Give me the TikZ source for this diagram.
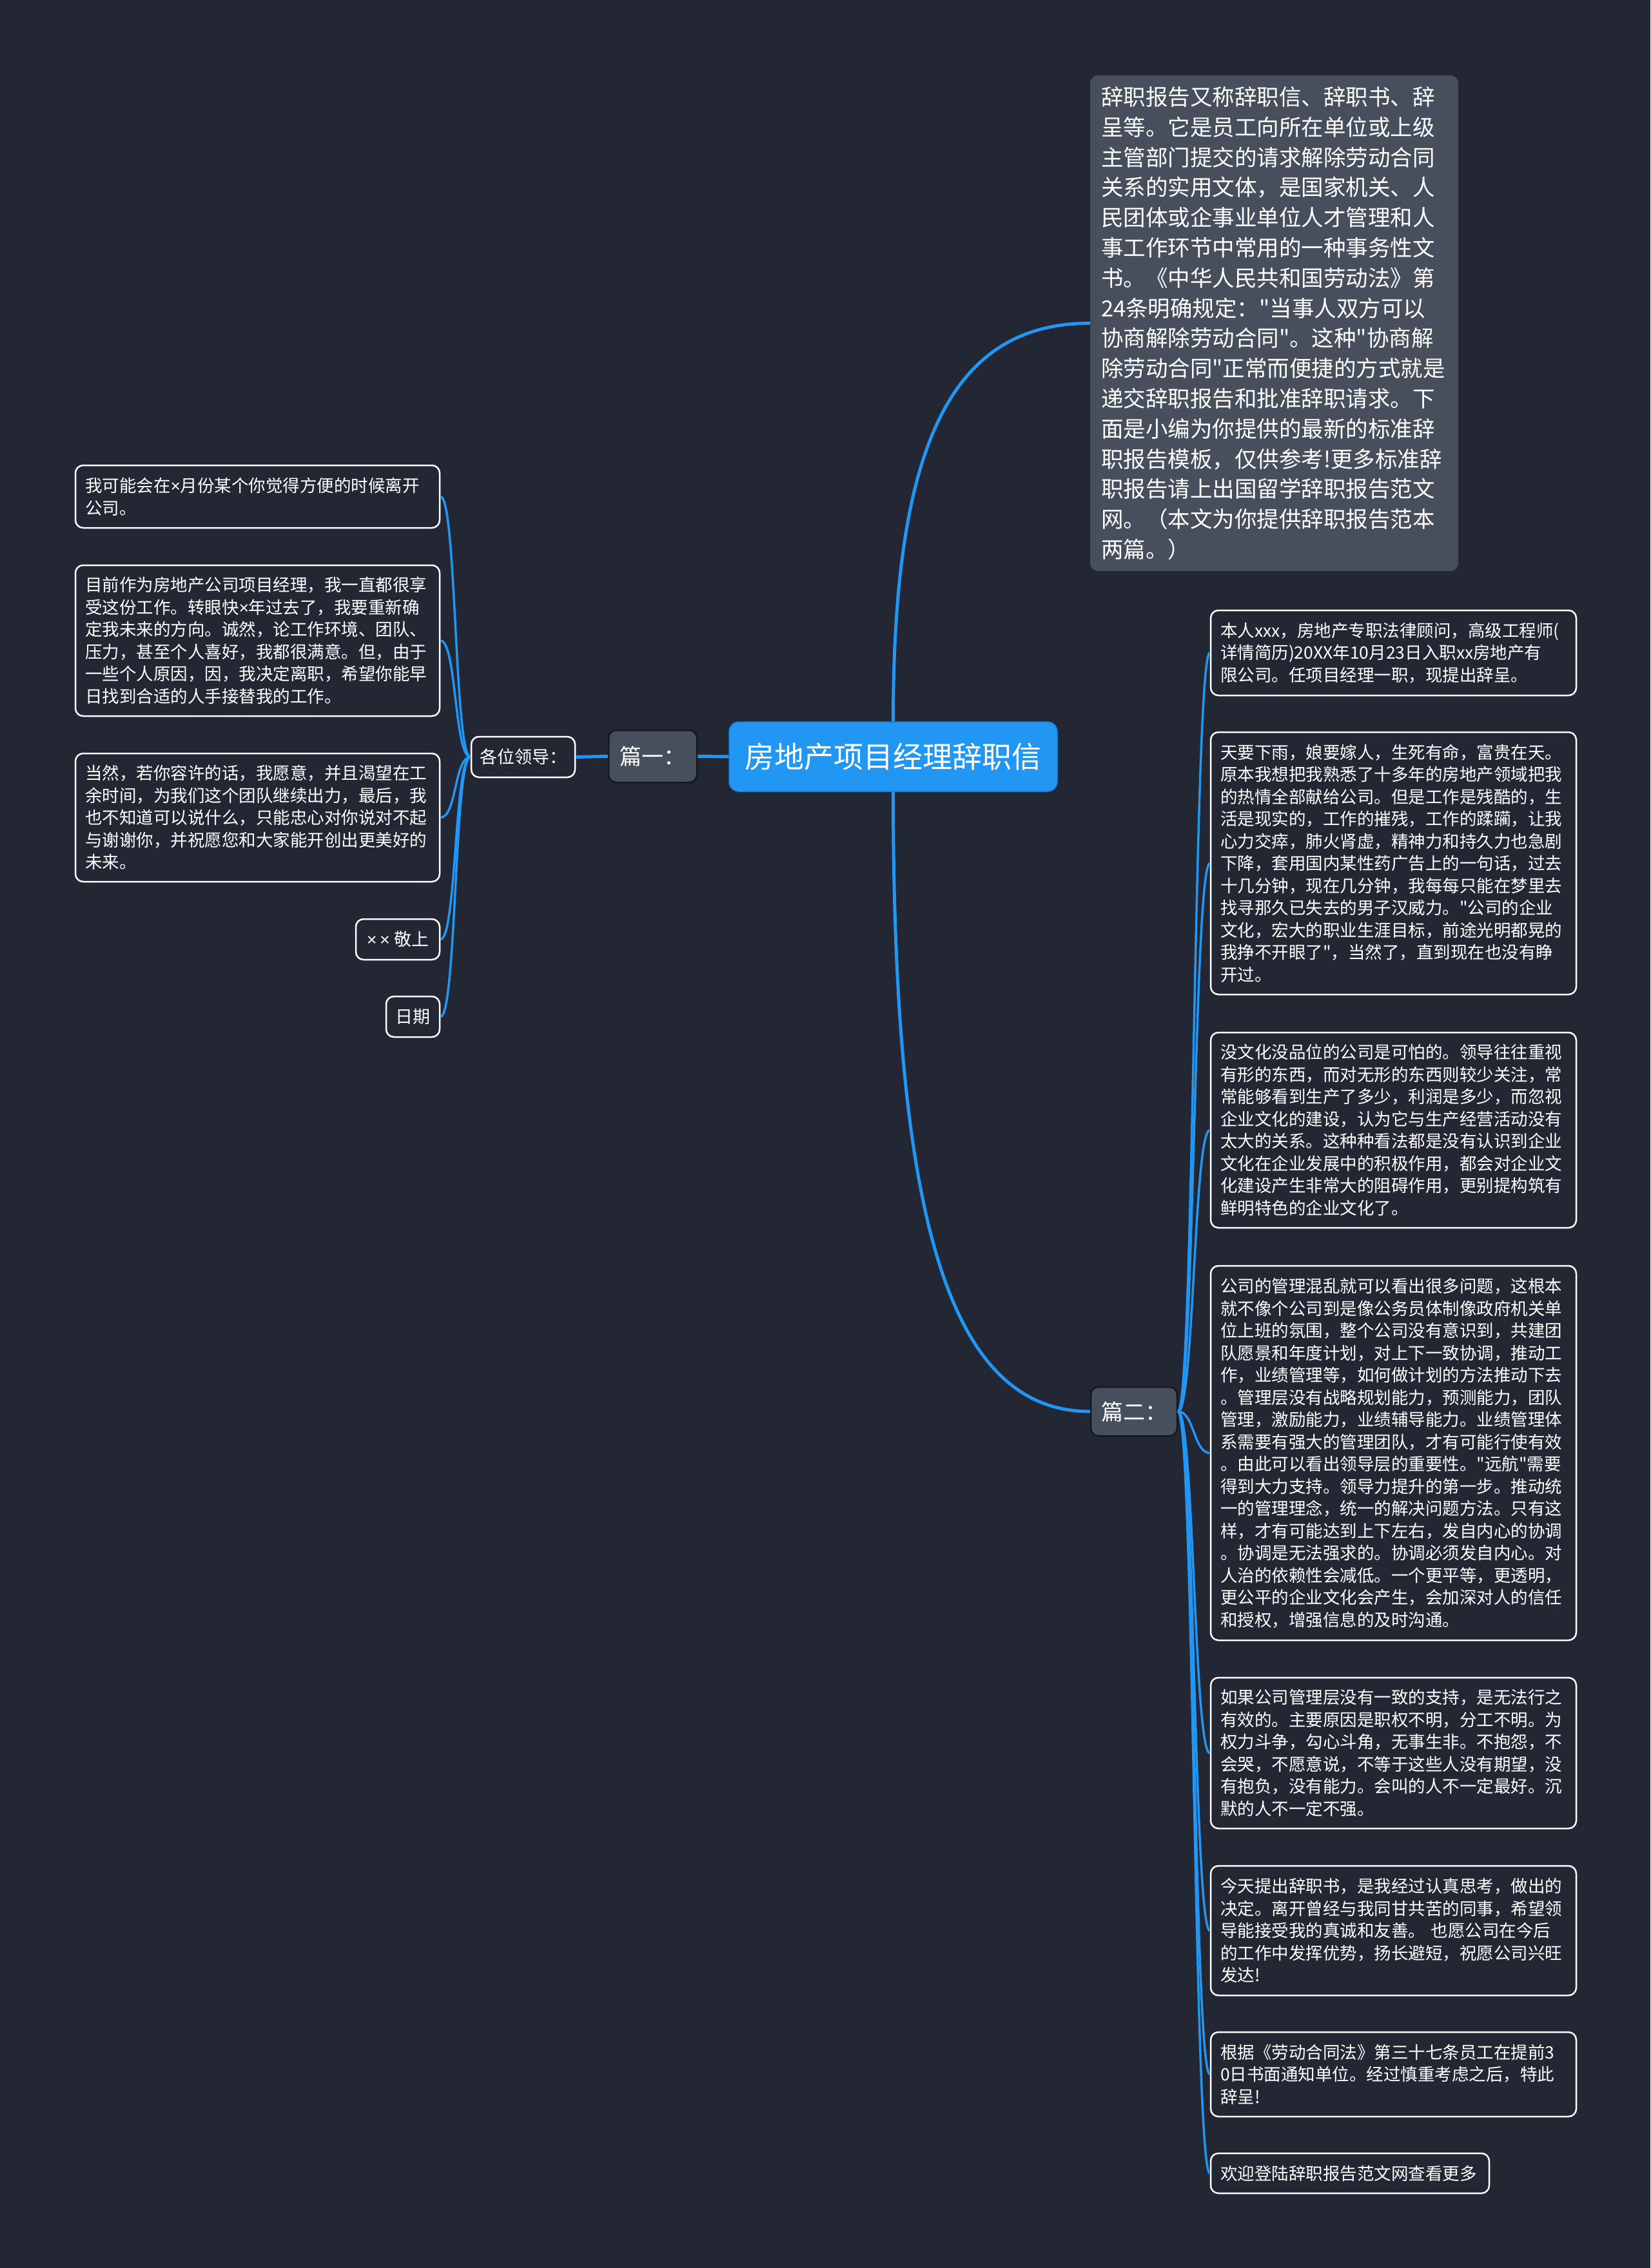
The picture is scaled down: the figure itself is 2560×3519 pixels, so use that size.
\documentclass[tikz,border=0pt]{standalone}
\usepackage{fontspec}
\setmainfont{Noto Sans CJK SC}[Ligatures=TeXOff]
\newfontfamily\latinfont{Liberation Sans}[Ligatures=TeXOff]
\newcommand{\tms}{{\latinfont ×}}
\definecolor{bgc}{HTML}{222733}
\definecolor{introc}{HTML}{474E5C}
\definecolor{rootc}{HTML}{2196F3}
\definecolor{linkc}{HTML}{2196F3}
\definecolor{darkedge}{HTML}{14171D}
\begin{document}
\begin{tikzpicture}[x=1pt,y=-1pt,
  leafbox/.style={draw=white, line width=2.5pt, fill=bgc, rounded corners=12pt, text=white,
    inner xsep=15pt, inner ysep=0pt, align=left, anchor=center,
    font=\fontsize{26.5pt}{34.5pt}\selectfont},
  smallbox/.style={draw=white, line width=2.5pt, fill=bgc, rounded corners=12pt, text=white,
    inner sep=0pt, align=center, font=\fontsize{27pt}{34pt}\selectfont},
  introbox/.style={draw=none, fill=introc, rounded corners=12pt, text=white,
    inner xsep=17pt, inner ysep=0pt, align=left,
    font=\fontsize{34.5pt}{46.8pt}\selectfont},
  midbox/.style={draw=darkedge, line width=2.5pt, fill=introc, rounded corners=12pt, text=white,
    inner sep=0pt, align=center, font=\fontsize{34pt}{40pt}\selectfont},
  rootbox/.style={draw=rootc!85!black, line width=1.5pt, fill=rootc, rounded corners=15pt, text=white,
    inner sep=0pt, align=center, font=\fontsize{46pt}{56pt}\selectfont},
  mainlink/.style={draw=linkc, line width=5pt},
  link/.style={draw=linkc, line width=3.5pt},
]
\fill[bgc] (0,0) rectangle (2560,3519);
\useasboundingbox (0,0) rectangle (2560,3519);

% ---------- nodes ----------
\node[rootbox, minimum width=509pt, minimum height=108pt] (root) at (1385.5,1174) {房地产项目经理辞职信};

\node[midbox, minimum width=137pt, minimum height=81pt] (p1) at (1012.5,1173.5) {篇一：};
\node[smallbox, minimum width=161pt, minimum height=63pt] (lead) at (811.5,1174.5) {各位领导：};

\node[leafbox, text width=535pt, minimum height=97pt] (l1) at (399.5,770.5)
 {我可能会在\tms 月份某个你觉得方便的时候离开\\公司。};
\node[leafbox, text width=535pt, minimum height=234pt] (l2) at (399.5,994)
 {目前作为房地产公司项目经理，我一直都很享\\受这份工作。转眼快\tms 年过去了，我要重新确\\定我未来的方向。诚然，论工作环境、团队、\\压力，甚至个人喜好，我都很满意。但，由于\\一些个人原因，因，我决定离职，希望你能早\\日找到合适的人手接替我的工作。};
\node[leafbox, text width=535pt, minimum height=199pt] (l3) at (399.5,1268.5)
 {当然，若你容许的话，我愿意，并且渴望在工\\余时间，为我们这个团队继续出力，最后，我\\也不知道可以说什么，只能忠心对你说对不起\\与谢谢你，并祝愿您和大家能开创出更美好的\\未来。};
\node[smallbox, minimum width=130pt, minimum height=63pt] (l4) at (617,1457.5) {\tms\,\tms\ 敬上};
\node[smallbox, minimum width=83pt, minimum height=63pt] (l5) at (640.5,1577.5) {日期};

\node[introbox, text width=537pt, minimum height=769pt] (intro) at (1976.5,501.5)
 {辞职报告又称辞职信、辞职书、辞\\呈等。它是员工向所在单位或上级\\主管部门提交的请求解除劳动合同\\关系的实用文体，是国家机关、人\\民团体或企事业单位人才管理和人\\事工作环节中常用的一种事务性文\\书。《中华人民共和国劳动法》第\\24条明确规定："当事人双方可以\\协商解除劳动合同"。这种"协商解\\除劳动合同"正常而便捷的方式就是\\递交辞职报告和批准辞职请求。下\\面是小编为你提供的最新的标准辞\\职报告模板，仅供参考!更多标准辞\\职报告请上出国留学辞职报告范文\\网。（本文为你提供辞职报告范本\\两篇。）};

\node[midbox, minimum width=134pt, minimum height=76pt] (p2) at (1759,2190) {篇二：};

\node[leafbox, text width=537pt, minimum height=132pt] (r1) at (2161.5,1013)
 {本人xxx，房地产专职法律顾问，高级工程师(\\详情简历)20XX年10月23日入职xx房地产有\\限公司。任项目经理一职，现提出辞呈。};
\node[leafbox, text width=537pt, minimum height=407pt] (r2) at (2161.5,1339.5)
 {天要下雨，娘要嫁人，生死有命，富贵在天。\\原本我想把我熟悉了十多年的房地产领域把我\\的热情全部献给公司。但是工作是残酷的，生\\活是现实的，工作的摧残，工作的蹂躏，让我\\心力交瘁，肺火肾虚，精神力和持久力也急剧\\下降，套用国内某性药广告上的一句话，过去\\十几分钟，现在几分钟，我每每只能在梦里去\\找寻那久已失去的男子汉威力。"公司的企业\\文化，宏大的职业生涯目标，前途光明都晃的\\我挣不开眼了"，当然了，直到现在也没有睁\\开过。};
\node[leafbox, text width=537pt, minimum height=303pt] (r3) at (2161.5,1753.5)
 {没文化没品位的公司是可怕的。领导往往重视\\有形的东西，而对无形的东西则较少关注，常\\常能够看到生产了多少，利润是多少，而忽视\\企业文化的建设，认为它与生产经营活动没有\\太大的关系。这种种看法都是没有认识到企业\\文化在企业发展中的积极作用，都会对企业文\\化建设产生非常大的阻碍作用，更别提构筑有\\鲜明特色的企业文化了。};
\node[leafbox, text width=537pt, minimum height=581pt] (r4) at (2161.5,2254.5)
 {公司的管理混乱就可以看出很多问题，这根本\\就不像个公司到是像公务员体制像政府机关单\\位上班的氛围，整个公司没有意识到，共建团\\队愿景和年度计划，对上下一致协调，推动工\\作，业绩管理等，如何做计划的方法推动下去\\。管理层没有战略规划能力，预测能力，团队\\管理，激励能力，业绩辅导能力。业绩管理体\\系需要有强大的管理团队，才有可能行使有效\\。由此可以看出领导层的重要性。"远航"需要\\得到大力支持。领导力提升的第一步。推动统\\一的管理理念，统一的解决问题方法。只有这\\样，才有可能达到上下左右，发自内心的协调\\。协调是无法强求的。协调必须发自内心。对\\人治的依赖性会减低。一个更平等，更透明，\\更公平的企业文化会产生，会加深对人的信任\\和授权，增强信息的及时沟通。};
\node[leafbox, text width=537pt, minimum height=234pt] (r5) at (2161.5,2720)
 {如果公司管理层没有一致的支持，是无法行之\\有效的。主要原因是职权不明，分工不明。为\\权力斗争，勾心斗角，无事生非。不抱怨，不\\会哭，不愿意说，不等于这些人没有期望，没\\有抱负，没有能力。会叫的人不一定最好。沉\\默的人不一定不强。};
\node[leafbox, text width=537pt, minimum height=201pt] (r6) at (2161.5,2995.5)
 {今天提出辞职书，是我经过认真思考，做出的\\决定。离开曾经与我同甘共苦的同事，希望领\\导能接受我的真诚和友善。 也愿公司在今后\\的工作中发挥优势，扬长避短，祝愿公司兴旺\\发达!};
\node[leafbox, text width=537pt, minimum height=131pt] (r7) at (2161.5,3218.5)
 {根据《劳动合同法》第三十七条员工在提前3\\0日书面通知单位。经过慎重考虑之后，特此\\辞呈!};
\node[leafbox, text width=402pt, minimum height=62pt] (r8) at (2094,3372)
 {欢迎登陆辞职报告范文网查看更多};

% ---------- connectors ----------
\path[mainlink] (root.north) .. controls +(0,-420) and +(-220,0) .. (intro.west);
\path[mainlink] (root.south) .. controls +(0,656) and +(-221,0) .. (p2.west);
\path[mainlink] (root.west) -- (p1.east);
\path[mainlink] (p1.west) -- (lead.east);
\foreach \c in {l1,l2,l3,l4,l5}{
  \path[link] (lead.west) .. controls +(-25,0) and +(25,0) .. (\c.east);
}
\foreach \c in {r1,r2,r3,r4,r5,r6,r7,r8}{
  \path[link] (p2.east) .. controls +(25,0) and +(-25,0) .. (\c.west);
}
\end{tikzpicture}
\end{document}
